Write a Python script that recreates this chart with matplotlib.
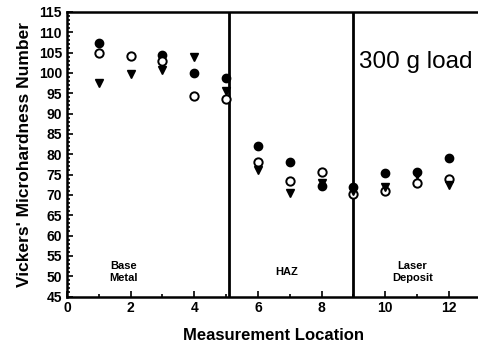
import numpy as np
import matplotlib.pyplot as plt

plt.rcParams['font.family'] = ['Liberation Sans', 'DejaVu Sans']

# measurement locations and hardness values (3 series)
loc = [1, 2, 3, 4, 5, 6, 7, 8, 9, 10, 11, 12]
filled = [107.3, None, 104.3, 99.9, 98.8, 82.0, 78.0, 72.2, 72.0, 75.3, 75.6, 79.0]
hollow = [105.0, 104.1, 102.9, 94.3, 93.6, 78.0, 73.3, 75.5, 70.2, 71.0, 73.0, 74.0]
tri = [97.5, 99.6, 100.6, 104.0, 95.6, 76.0, 70.5, 72.8, 71.0, 72.0, 74.8, 72.5]

borders = [5.1, 9.0]  # region boundaries

fig = plt.figure(figsize=(4.78, 3.59), dpi=100)
ax = fig.add_axes([0.140, 0.174, 0.866, 0.793])

fx = [x for x, v in zip(loc, filled) if v is not None]
fy = [v for v in filled if v is not None]
ax.plot(fx, fy, 'o', color='black', markersize=6, zorder=3)
ax.plot(loc, hollow, 'o', markerfacecolor='white', markeredgecolor='black',
        markeredgewidth=1.4, markersize=6, zorder=3)
ax.plot(loc, tri, 'v', color='black', markersize=5.8, zorder=3)

for b in borders:
  ax.axvline(b, color='black', linewidth=2)

ax.set_xlim(0, 13)
ax.set_ylim(45, 115)
ax.set_xticks(np.arange(0, 13, 2))
ax.set_xticks(np.arange(0, 14, 1), minor=True)
ax.set_yticks(np.arange(45, 116, 5))
ax.set_yticks(np.arange(45, 116, 1), minor=True)
ax.tick_params(which='both', direction='in', width=1.2, labelsize=10)
ax.tick_params(which='major', length=4)
ax.tick_params(which='minor', length=2)
for t in ax.get_xticklabels() + ax.get_yticklabels():
  t.set_fontweight('bold')
for s in ax.spines.values():
  s.set_linewidth(1.8)

ax.set_xlabel('Measurement Location', fontsize=12, fontweight='bold', labelpad=9)
ax.set_ylabel("Vickers' Microhardness Number", fontsize=12.5, fontweight='bold', labelpad=5)

ax.text(1.77, 51.0, 'Base\nMetal', ha='center', va='center', fontsize=8,
        fontweight='bold', linespacing=1.25)
ax.text(6.91, 51.1, 'HAZ', ha='center', va='center', fontsize=8, fontweight='bold')
ax.text(10.85, 51.0, 'Laser\nDeposit', ha='center', va='center', fontsize=8,
        fontweight='bold', linespacing=1.25)
ax.text(9.16, 101.3, '300 g load', ha='left', va='baseline', fontsize=17.5)

fig.savefig('out.png', dpi=100)
